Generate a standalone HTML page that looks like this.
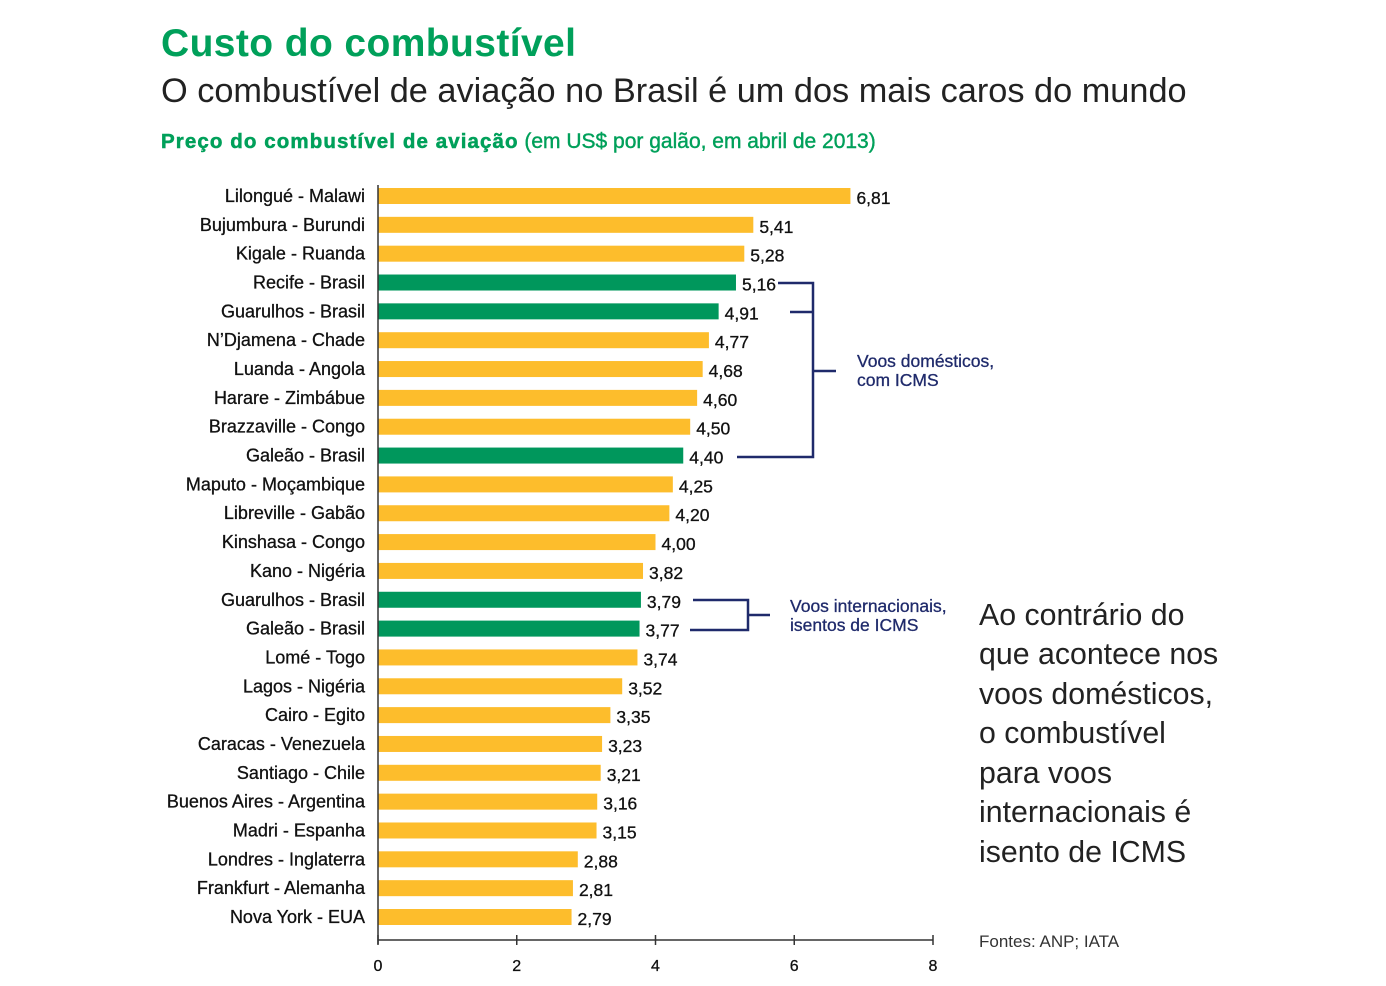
<!DOCTYPE html>
<html><head><meta charset="utf-8"><style>
body{margin:0;background:#fff;width:1386px;height:981px;overflow:hidden;font-family:"Liberation Sans",sans-serif;}
</style></head><body>
<svg width="1386" height="981" xmlns="http://www.w3.org/2000/svg" font-family="Liberation Sans, sans-serif">
<text x="161" y="56" font-size="39" font-weight="bold" fill="#00A05A" letter-spacing="0.4">Custo do combustível</text>
<text x="161" y="102" font-size="34.3" fill="#222">O combustível de aviação no Brasil é um dos mais caros do mundo</text>
<text x="161" y="148" font-size="20.5" fill="#00A05A" font-weight="bold"><tspan letter-spacing="1.1" stroke="#00A05A" stroke-width="0.5">Preço do combustível de aviação</tspan> <tspan font-weight="normal" stroke="#00A05A" stroke-width="0.4" font-size="21">(em US$ por galão, em abril de 2013)</tspan></text>
<g id="bars"></g>
<g id="axis"></g>
<g fill="none" stroke="#1F2A6B" stroke-width="2.5">
<polyline points="778,283 813,283 813,457 737,457"/><line x1="790" y1="312" x2="813" y2="312"/><line x1="813" y1="371" x2="836" y2="371"/>
</g>
<text x="857" y="367" font-size="17.5" fill="#1F2A6B" stroke="#1F2A6B" stroke-width="0.3">Voos domésticos,</text>
<text x="857" y="386" font-size="17.5" fill="#1F2A6B" stroke="#1F2A6B" stroke-width="0.3">com ICMS</text>
<g fill="none" stroke="#1F2A6B" stroke-width="2.5">
<polyline points="693,600 748,600 748,630 690,630"/><line x1="748" y1="615" x2="770" y2="615"/>
</g>
<text x="790" y="612" font-size="17.5" fill="#1F2A6B" stroke="#1F2A6B" stroke-width="0.3">Voos internacionais,</text>
<text x="790" y="631" font-size="17.5" fill="#1F2A6B" stroke="#1F2A6B" stroke-width="0.3">isentos de ICMS</text>
<g font-size="30.3" fill="#222">
<text x="979" y="625">Ao contrário do</text><text x="979" y="664">que acontece nos</text><text x="979" y="704">voos domésticos,</text><text x="979" y="743">o combustível</text><text x="979" y="783">para voos</text><text x="979" y="822">internacionais é</text><text x="979" y="862">isento de ICMS</text>
</g>
<text x="979" y="947" font-size="17" fill="#333">Fontes: ANP; IATA</text>
</svg>
<script>
const categories=["Lilongué - Malawi","Bujumbura - Burundi","Kigale - Ruanda","Recife - Brasil","Guarulhos - Brasil","N’Djamena - Chade","Luanda - Angola","Harare - Zimbábue","Brazzaville - Congo","Galeão - Brasil","Maputo - Moçambique","Libreville - Gabão","Kinshasa - Congo","Kano - Nigéria","Guarulhos - Brasil","Galeão - Brasil","Lomé - Togo","Lagos - Nigéria","Cairo - Egito","Caracas - Venezuela","Santiago - Chile","Buenos  Aires - Argentina","Madri - Espanha","Londres - Inglaterra","Frankfurt - Alemanha","Nova York - EUA"];
const values=[6.81,5.41,5.28,5.16,4.91,4.77,4.68,4.60,4.50,4.40,4.25,4.20,4.00,3.82,3.79,3.77,3.74,3.52,3.35,3.23,3.21,3.16,3.15,2.88,2.81,2.79];
const brazil=[0,0,0,1,1,0,0,0,0,1,0,0,0,0,1,1,0,0,0,0,0,0,0,0,0,0];
const ticks=[0,2,4,6,8];
const NS="http://www.w3.org/2000/svg";
const x=v=>378+v*(555/8);
const y=i=>196+i*28.84;
const bars=document.getElementById('bars'),axis=document.getElementById('axis');
function mk(p,t,a){const e=document.createElementNS(NS,t);for(const k in a)e.setAttribute(k,a[k]);p.appendChild(e);return e;}
categories.forEach((c,i)=>{
 const r=mk(bars,'rect',{x:x(0),y:y(i)-8,width:x(values[i])-x(0),height:16,fill:brazil[i]?'#00975C':'#FDBD2C'});
 
 
 const l=mk(bars,'text',{x:365,y:y(i)+6,'text-anchor':'end','font-size':18,fill:'#111',stroke:'#111','stroke-width':0.3});
 l.textContent=c;
 
 
 const v=mk(bars,'text',{x:x(values[i])+6,y:y(i)+8,'font-size':17.5,fill:'#111',stroke:'#111','stroke-width':0.3});
 v.textContent=values[i].toFixed(2).replace('.',',');
 
 
});
const ax=mk(axis,'line',{x1:x(0),y1:940,x2:x(8),y2:940,stroke:'#333','stroke-width':1.5});


mk(axis,'line',{x1:x(0),y1:185,x2:x(0),y2:944,stroke:'#333','stroke-width':1.5});
ticks.forEach(t=>{
 mk(axis,'line',{x1:x(t),y1:935,x2:x(t),y2:945,stroke:'#333','stroke-width':1.5});
 const tl=mk(axis,'text',{x:x(t),y:971,'text-anchor':'middle','font-size':16,fill:'#111',stroke:'#111','stroke-width':0.3});
 tl.textContent=t;
 
 
});
</script>
</body></html>
